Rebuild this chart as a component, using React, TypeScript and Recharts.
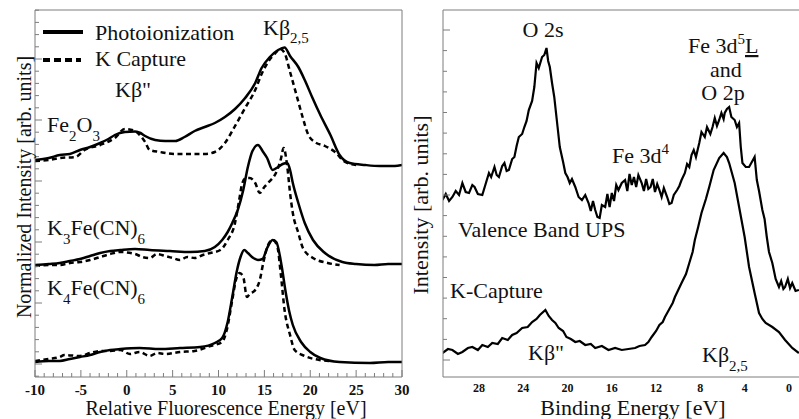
import React from "react";
import { LineChart, Line, XAxis, YAxis } from "recharts";

type Pt = [number, number];

// left panel: relative fluorescence energy [eV] vs stacked intensity
const fe2o3Photo: Pt[] = [
  [-10, 21.7], [-8.5, 21.9], [-7.3, 22.2], [-6.2, 22.3], [-5.1, 22.7], [-4, 23.0], [-2.9, 23.4], [-2, 23.8],
  [-1.3, 24.2], [-0.2, 24.5], [0.9, 24.55], [1.5, 24.4], [2.0, 24.1], [3.1, 23.7], [4.2, 23.6], [5.3, 23.6],
  [6.3, 24.0], [7.4, 24.6], [8.5, 25.0], [9.6, 25.4], [10.7, 26.0], [11.8, 26.8], [12.9, 27.9], [14.0, 29.4],
  [14.7, 30.9], [15.6, 32.0], [16.5, 32.7], [17.2, 32.95], [17.8, 32.1], [18.7, 31.0], [19.4, 29.7], [20.2, 28.0],
  [21.1, 26.2], [22.2, 24.2], [23.2, 22.2], [24.3, 21.4], [26.0, 21.2], [27.6, 21.1], [29.2, 21.1], [30, 21.2],
];
const fe2o3K: Pt[] = [
  [-10, 21.6], [-8.5, 21.7], [-7.3, 21.9], [-5.6, 22.0], [-4.6, 22.7], [-2.9, 23.2], [-1.3, 23.9], [-0.2, 24.8],
  [0.9, 24.6], [1.6, 24.0], [2.0, 23.5], [2.5, 22.7], [3.6, 22.5], [5.3, 22.3], [6.9, 22.3], [8.5, 22.3],
  [9.6, 22.5], [10.7, 23.4], [11.8, 25.1], [12.9, 26.9], [14.0, 28.7], [14.7, 30.3], [15.4, 31.5], [16.2, 32.4],
  [16.7, 32.8], [17.2, 32.4], [17.8, 30.5], [18.5, 28.2], [19.1, 26.2], [19.8, 24.2], [20.5, 23.5], [21.6, 23.1],
  [22.7, 22.5], [23.8, 21.5], [25.0, 21.2],
];
const k3Photo: Pt[] = [
  [-10, 11.2], [-8.5, 11.3], [-7.3, 11.4], [-6.2, 11.6], [-5.1, 11.8], [-4, 12.1], [-2.9, 12.4], [-1.8, 12.6],
  [-0.7, 12.7], [0.9, 12.8], [2.5, 12.7], [4.7, 12.6], [6.9, 12.5], [8.5, 12.6], [9.6, 13.0], [10.4, 13.7],
  [11.0, 14.5], [11.5, 15.4], [12.1, 16.7], [12.7, 18.7], [13.2, 21.0], [13.7, 22.6], [14.3, 23.2], [14.8, 22.6],
  [15.3, 21.9], [15.9, 20.7], [16.5, 21.0], [17.0, 21.3], [17.5, 21.4], [17.8, 20.7], [18.1, 19.4], [18.7, 17.4],
  [19.4, 15.4], [20.3, 13.7], [21.6, 12.4], [23.5, 11.5], [25.0, 11.3], [27.0, 11.2], [28.5, 11.3], [30, 11.3],
];
const k3K: Pt[] = [
  [-10, 11.1], [-8.5, 11.2], [-7.3, 11.2], [-6.2, 11.4], [-5.1, 11.5], [-4, 11.7], [-2.9, 12.0], [-1.8, 12.3],
  [-0.7, 12.5], [0.9, 12.3], [1.7, 12.0], [2.5, 11.9], [3.3, 12.3], [4.2, 12.1], [5.0, 11.9], [5.8, 11.7],
  [6.6, 12.0], [7.4, 11.9], [8.3, 12.2], [9.1, 12.4], [10.2, 12.7], [11.0, 13.7], [11.8, 15.4], [12.2, 17.4],
  [12.6, 19.4], [13.0, 19.9], [13.4, 19.9], [14.0, 19.4], [14.5, 18.4], [15.0, 19.0], [15.4, 19.4], [16.4, 20.7],
  [16.8, 21.8], [17.1, 22.9], [17.5, 21.0], [17.8, 18.4], [18.1, 16.4], [18.7, 14.4], [19.2, 12.9], [20.3, 11.9],
  [21.9, 11.4], [23.2, 11.2],
];
const k4Photo: Pt[] = [
  [-10, 1.5], [-8.5, 1.6], [-7.3, 1.6], [-6.2, 1.8], [-5.1, 2.0], [-4, 2.2], [-2.9, 2.5], [-1.8, 2.7],
  [-0.7, 2.8], [1.4, 2.9], [3.6, 2.8], [5.8, 2.9], [8.0, 3.0], [9.6, 3.4], [10.4, 3.9], [11.0, 5.5],
  [11.5, 8.0], [12.0, 10.6], [12.4, 12.0], [12.8, 12.7], [13.2, 12.4], [13.8, 11.9], [14.3, 11.7], [14.8, 11.8],
  [15.3, 12.9], [15.9, 13.7], [16.3, 13.5], [16.9, 11.0], [17.3, 8.6], [17.7, 6.6], [18.1, 5.2], [19.0, 3.5],
  [20.0, 2.5], [21.1, 1.9], [23.2, 1.5], [26.5, 1.4], [28.5, 1.5], [30, 1.5],
];
const k4K: Pt[] = [
  [-10, 1.6], [-8.5, 1.8], [-7.3, 2.0], [-6.8, 2.2], [-5.1, 2.1], [-4, 2.4], [-2.9, 2.6], [-1.8, 2.6],
  [-0.7, 2.7], [0.35, 2.3], [1.4, 2.5], [2.5, 2.1], [3.3, 2.4], [4.2, 2.3], [5.8, 2.5], [7.4, 2.6],
  [9.1, 3.1], [10.4, 3.5], [10.9, 4.7], [11.5, 7.7], [11.9, 9.7], [12.3, 10.4], [12.7, 10.0], [13.1, 8.0],
  [13.4, 8.3], [14.0, 8.7], [14.5, 9.7], [14.9, 11.5], [15.4, 13.2], [15.9, 13.7], [16.4, 13.1], [16.8, 10.2],
  [17.2, 6.7], [17.8, 4.2], [18.3, 2.7], [19.4, 2.1], [21.0, 1.7], [22.2, 1.6],
];

// right panel: binding energy [eV] (reversed) vs intensity
const upsValence: Pt[] = [
  [31.3, 17.7], [31.0, 18.3], [30.7, 17.6], [30.4, 18.0], [30.1, 18.6], [29.8, 18.2], [29.5, 19.4], [29.2, 18.5],
  [28.9, 18.4], [28.6, 19.2], [28.4, 19.0], [28.1, 18.3], [27.7, 18.2], [27.4, 19.3], [27.1, 20.4], [26.9, 20.0],
  [26.6, 21.0], [26.4, 20.2], [26.2, 20.0], [25.9, 21.1], [25.7, 21.4], [25.5, 20.6], [25.3, 20.7], [25.0, 21.8],
  [24.8, 22.0], [24.6, 23.1], [24.4, 24.0], [24.1, 24.3], [23.9, 25.0], [23.7, 25.6], [23.5, 26.7], [23.2, 27.6],
  [23.0, 29.0], [22.8, 31.4], [22.6, 30.9], [22.3, 32.0], [22.1, 32.2], [21.9, 32.9], [21.75, 31.6], [21.6, 31.0],
  [21.4, 29.4], [21.2, 28.0], [20.9, 25.0], [20.7, 23.0], [20.4, 21.5], [20.2, 20.4], [20.0, 20.0], [19.8, 19.4],
  [19.6, 19.8], [19.3, 19.0], [19.0, 18.0], [18.7, 17.7], [18.4, 18.2], [18.1, 17.4], [17.9, 16.6], [17.7, 17.6],
  [17.5, 16.7], [17.3, 16.0], [17.1, 15.9], [16.9, 17.2], [16.6, 17.0], [16.4, 18.3], [16.2, 17.0], [16.0, 18.4],
  [15.8, 17.6], [15.6, 19.2], [15.4, 18.7], [15.1, 19.4], [14.8, 19.7], [14.6, 18.6], [14.4, 20.3], [14.2, 19.2],
  [14.0, 20.0], [13.8, 19.0], [13.6, 20.2], [13.3, 19.4], [13.1, 18.6], [12.9, 19.8], [12.7, 18.8], [12.5, 19.0],
  [12.3, 19.8], [12.1, 18.5], [11.9, 19.3], [11.7, 18.7], [11.5, 18.0], [11.3, 18.9], [11.0, 18.0], [10.8, 17.3],
  [10.6, 17.4], [10.4, 18.2], [10.1, 18.7], [9.9, 19.1], [9.7, 19.7], [9.4, 20.4], [9.2, 21.3], [9.0, 21.0],
  [8.8, 22.2], [8.6, 22.7], [8.4, 22.0], [8.1, 23.4], [7.9, 24.5], [7.6, 24.0], [7.4, 25.0], [7.1, 24.3],
  [6.9, 25.0], [6.7, 25.9], [6.5, 25.1], [6.3, 25.7], [6.1, 26.4], [5.9, 25.8], [5.8, 26.4], [5.6, 26.8],
  [5.4, 27.0], [5.2, 26.0], [4.9, 25.7], [4.7, 25.0], [4.5, 25.4], [4.35, 23.0], [4.2, 21.4], [3.9, 21.0],
  [3.6, 21.0], [3.3, 21.6], [3.1, 22.0], [2.9, 19.7], [2.7, 18.6], [2.4, 16.7], [2.2, 15.8], [2.0, 14.0],
  [1.8, 12.5], [1.5, 11.4], [1.2, 9.8], [0.9, 9.0], [0.7, 9.6], [0.5, 8.8], [0.35, 9.0], [0.1, 9.8],
  [-0.1, 8.9], [-0.3, 9.4], [-0.6, 8.6], [-0.9, 8.7],
];
const kCapture: Pt[] = [
  [31.3, 2.4], [30.8, 2.8], [30.4, 2.7], [29.9, 2.3], [29.5, 2.5], [29.0, 2.9], [28.6, 3.0], [28.1, 2.7],
  [27.7, 3.2], [27.2, 3.0], [26.8, 3.4], [26.3, 3.3], [25.9, 3.9], [25.4, 3.7], [25.0, 4.2], [24.6, 4.4],
  [24.1, 4.9], [23.6, 5.0], [23.2, 5.5], [22.8, 5.8], [22.5, 6.2], [22.0, 6.7], [21.7, 6.1], [21.4, 5.7],
  [21.1, 5.4], [20.8, 4.9], [20.4, 4.6], [20.1, 4.0], [19.7, 3.8], [19.3, 3.5], [18.9, 3.6], [18.4, 3.2],
  [17.9, 3.3], [17.5, 2.9], [16.9, 3.1], [16.3, 2.7], [15.7, 2.9], [15.1, 2.7], [14.5, 2.8], [13.9, 2.9],
  [13.5, 3.1], [13.0, 3.2], [12.7, 3.5], [12.4, 4.0], [12.0, 4.6], [11.7, 5.2], [11.4, 5.5], [11.2, 6.0],
  [10.9, 6.6], [10.7, 7.0], [10.5, 7.4], [10.3, 8.0], [10.0, 8.7], [9.7, 9.4], [9.3, 10.3], [9.0, 11.4],
  [8.7, 12.5], [8.5, 13.7], [8.2, 15.0], [7.9, 16.4], [7.5, 17.8], [7.2, 19.0], [6.8, 20.7], [6.3, 21.9],
  [5.9, 22.4], [5.6, 22.0], [5.4, 21.4], [4.9, 19.4], [4.5, 17.0], [4.0, 14.0], [3.6, 11.0], [3.1, 8.4],
  [2.7, 6.4], [2.4, 5.8], [2.1, 5.4], [1.5, 5.0], [0.9, 4.5], [0.35, 3.7], [-0.3, 2.9], [-0.9, 2.4],
];

// ticks
const leftXMajor = [-10, -5, 0, 5, 10, 15, 20, 25, 30];
const leftXTicks = Array.from({ length: 41 }, (_, i) => i - 10);
const leftYMajor = [1.3, 7.4, 13.5, 19.6, 25.7, 31.8];
const leftYTicks = Array.from({ length: 31 }, (_, i) => +(0.08 + i * 1.22).toFixed(2));
const rightXMajor = [28, 24, 20, 16, 12, 8, 4, 0];
const rightXTicks = Array.from({ length: 24 }, (_, i) => +(i * (4 / 3)).toFixed(3));
const rightYMajor = [1.7, 10.0, 18.2, 26.5, 34.7];
const rightYTicks = Array.from({ length: 17 }, (_, i) => +(1.7 + i * 2.0625).toFixed(2));

const Y_DOMAIN: [number, number] = [0, 36.7];
const AXIS = "#7d7d7d";
const SERIF = "'Liberation Serif', 'Times New Roman', serif";

const rows = (pts: Pt[]) => pts.map(([e, v]) => ({ e, v }));
const isMajor = (list: number[], v: number) => list.some((m) => Math.abs(m - v) < 0.02);

const yTick = (majors: number[], dir: number) => (p: any) => {
  const len = isMajor(majors, p.payload.value) ? 7 : 4;
  return <line x1={p.x} x2={p.x + dir * len} y1={p.y} y2={p.y} stroke={AXIS} strokeWidth={1} />;
};

const leftXTick = (p: any) => {
  const major = isMajor(leftXMajor, p.payload.value);
  return (
    <g>
      <line x1={p.x} x2={p.x} y1={p.y} y2={p.y - (major ? 7 : 4)} stroke={AXIS} strokeWidth={1} />
      {major && (
        <text x={p.x} y={p.y + 18} textAnchor="middle" fontFamily={SERIF} fontWeight="bold" fontSize={15} fill="#111">
          {p.payload.value}
        </text>
      )}
    </g>
  );
};

const rightXLabel = (p: any) =>
  isMajor(rightXMajor, p.payload.value) ? (
    <text x={p.x} y={p.y + 15} textAnchor="middle" fontFamily={SERIF} fontWeight="bold" fontSize={12} fill="#111">
      {Math.round(p.payload.value)}
    </text>
  ) : (
    <g />
  );

const topTick = (p: any) => {
  const len = isMajor(rightXMajor, p.payload.value) ? 7 : 4;
  return <line x1={p.x} x2={p.x} y1={p.y} y2={p.y + len} stroke={AXIS} strokeWidth={1} />;
};

const solid = { stroke: "#000", strokeWidth: 2.5, dot: false as const, isAnimationActive: false };
const dashed = { ...solid, strokeDasharray: "5 3.5" };

// axes are 1px thick (Recharts skips 0-size axes); margins are 1px smaller to compensate
const LeftPanel = () => (
  <LineChart width={420} height={419} margin={{ top: 9, right: 17, bottom: 41, left: 34 }}>
    <XAxis type="number" dataKey="e" domain={[-10, 30]} ticks={leftXTicks} interval={0} height={1}
      tickSize={0} tickMargin={0} tickLine={false} axisLine={{ stroke: AXIS }} tick={leftXTick} allowDataOverflow />
    <XAxis xAxisId="t" orientation="top" type="number" domain={[-10, 30]} height={1} tick={false}
      tickLine={false} axisLine={{ stroke: AXIS }} />
    <YAxis type="number" domain={Y_DOMAIN} ticks={leftYTicks} interval={0} width={1} tickSize={0} tickMargin={0}
      tickLine={false} axisLine={{ stroke: AXIS }} tick={yTick(leftYMajor, 1)} allowDataOverflow />
    <YAxis yAxisId="r" orientation="right" type="number" domain={Y_DOMAIN} ticks={leftYTicks} interval={0} width={1}
      tickSize={0} tickMargin={0} tickLine={false} axisLine={{ stroke: AXIS }} tick={yTick(leftYMajor, -1)} />
    <Line data={rows(fe2o3K)} dataKey="v" type="monotone" {...dashed} />
    <Line data={rows(k3K)} dataKey="v" type="monotone" {...dashed} />
    <Line data={rows(k4K)} dataKey="v" type="monotone" {...dashed} />
    <Line data={rows(fe2o3Photo)} dataKey="v" type="monotone" {...solid} />
    <Line data={rows(k3Photo)} dataKey="v" type="monotone" {...solid} />
    <Line data={rows(k4Photo)} dataKey="v" type="monotone" {...solid} />
  </LineChart>
);

const RightPanel = () => (
  <LineChart width={400} height={419} margin={{ top: 9, right: 0, bottom: 41, left: 42 }}>
    <XAxis type="number" dataKey="e" domain={[-1, 31.25]} reversed ticks={rightXTicks} interval={0} height={1}
      tickSize={0} tickMargin={0} tickLine={false} axisLine={{ stroke: AXIS }} tick={rightXLabel} allowDataOverflow />
    <XAxis xAxisId="t" orientation="top" type="number" domain={[-1, 31.25]} reversed ticks={rightXTicks} interval={0}
      height={1} tickSize={0} tickMargin={0} tickLine={false} axisLine={{ stroke: AXIS }} tick={topTick} />
    <YAxis type="number" domain={Y_DOMAIN} ticks={rightYTicks} interval={0} width={1} tickSize={0} tickMargin={0}
      tickLine={false} axisLine={{ stroke: AXIS }} tick={yTick(rightYMajor, 1)} allowDataOverflow />
    <Line data={rows(upsValence)} dataKey="v" type="linear" {...solid} strokeWidth={2.2} />
    <Line data={rows(kCapture)} dataKey="v" type="linear" {...solid} strokeWidth={2.2} />
  </LineChart>
);

const Sub = ({ children, dy = 9 }: { children: React.ReactNode; dy?: number }) => (
  <tspan fontSize={15} dy={dy}>{children}</tspan>
);

const Labels = () => (
  <svg width={799} height={419} style={{ position: "absolute", left: 0, top: 0, pointerEvents: "none" }}
    fontFamily={SERIF} fill="#111">
    {/* legend */}
    <line x1={43} x2={83} y1={32} y2={32} stroke="#000" strokeWidth={4} />
    <text x={95} y={40} fontSize={22}>Photoionization</text>
    <line x1={43} x2={81} y1={60} y2={60} stroke="#000" strokeWidth={4} strokeDasharray="7 4" />
    <text x={95} y={66} fontSize={22}>K Capture</text>

    {/* left annotations */}
    <text x={263} y={35} fontSize={22}>Kβ<Sub dy={8}>2,5</Sub></text>
    <text x={115} y={97} fontSize={22}>Kβ"</text>
    <text x={47} y={132} fontSize={22}>Fe<Sub>2</Sub><tspan dy={-9}>O</tspan><Sub>3</Sub></text>
    <text x={47} y={235} fontSize={22}>K<Sub>3</Sub><tspan dy={-9}>Fe(CN)</tspan><Sub>6</Sub></text>
    <text x={47} y={295} fontSize={22}>K<Sub>4</Sub><tspan dy={-9}>Fe(CN)</tspan><Sub>6</Sub></text>

    {/* right annotations */}
    <text x={543} y={37} fontSize={22} textAnchor="middle">O 2s</text>
    <text x={688} y={53} fontSize={22}>Fe 3d<Sub dy={-9}>5</Sub><tspan dy={9} textDecoration="underline">L</tspan></text>
    <text x={726} y={77} fontSize={22} textAnchor="middle">and</text>
    <text x={723} y={100} fontSize={22} textAnchor="middle">O 2p</text>
    <text x={612} y={163} fontSize={22}>Fe 3d<Sub dy={-9}>4</Sub></text>
    <text x={458} y={237} fontSize={22}>Valence Band UPS</text>
    <text x={450} y={298} fontSize={22}>K-Capture</text>
    <text x={528} y={360} fontSize={22}>Kβ"</text>
    <text x={702} y={362} fontSize={22}>Kβ<Sub dy={9}>2,5</Sub></text>

    {/* axis titles */}
    <text x={226} y={415} fontSize={20} textAnchor="middle">Relative Fluorescence Energy [eV]</text>
    <text x={31} y={187} fontSize={20} textAnchor="middle" transform="rotate(-90 31 187)">
      Normalized Intensity [arb. units]
    </text>
    <text x={633} y={415} fontSize={22} textAnchor="middle">Binding Energy [eV]</text>
    <text x={428} y={205} fontSize={22} textAnchor="middle" transform="rotate(-90 428 205)">
      Intensity [arb. units]
    </text>
  </svg>
);

export default function App() {
  return (
    <div style={{ position: "absolute", left: 0, top: 0, width: 799, height: 419, overflow: "hidden", background: "#fff" }}>
      <div style={{ position: "absolute", left: 0, top: 0 }}>
        <LeftPanel />
      </div>
      <div style={{ position: "absolute", left: 400, top: 0 }}>
        <RightPanel />
      </div>
      <Labels />
    </div>
  );
}
